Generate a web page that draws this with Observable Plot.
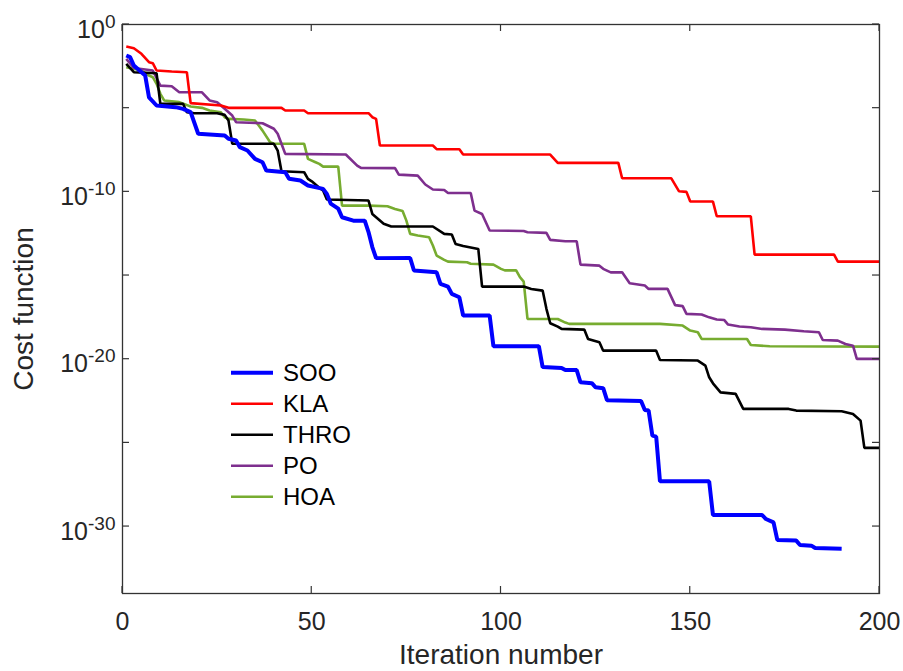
<!DOCTYPE html>
<html><head><meta charset="utf-8">
<script src="https://cdn.jsdelivr.net/npm/d3@7"></script>
<script src="https://cdn.jsdelivr.net/npm/@observablehq/plot@0.6"></script>
<style>body{margin:0;background:#fff;} svg{display:block}</style>
</head><body><div id="chart"></div>
<script>
// ---- data (iteration number, log10 of cost) ----
const algorithms = ["SOO", "KLA", "THRO", "PO", "HOA"];

const sooIter = [1,2,3,6,7,9,14,16,18,20,27,28,30,31,33,35,37,38,43,44,47,49,53,54,55,57,58,61,64,65,66,67,76,77,83,84,86,87,89,90,97,98,110,111,116,117,120,121,124,125,127,128,137,138,139,140,141,142,155,156,169,170,172,173,178,179,182,183,190];
const sooLog  = [-1.85,-1.95,-2.45,-3.05,-4.35,-4.84,-4.94,-5.04,-5.24,-6.53,-6.63,-6.83,-6.93,-7.33,-7.53,-8.03,-8.23,-8.73,-8.83,-9.22,-9.32,-9.62,-9.82,-10.12,-10.70,-11.0,-11.52,-11.72,-11.72,-12.4,-13.3,-13.96,-13.95,-14.70,-14.81,-15.50,-15.66,-16.10,-16.30,-17.39,-17.39,-19.22,-19.22,-20.47,-20.52,-20.65,-20.65,-21.38,-21.43,-21.68,-21.73,-22.45,-22.50,-23.03,-23.07,-24.57,-24.63,-27.30,-27.30,-29.31,-29.31,-29.55,-29.75,-30.80,-30.84,-31.10,-31.14,-31.28,-31.32];

const klaIter = [1,3,5,7,8,9,13,17,18,26,28,42,43,48,49,65,66,67,68,82,83,89,90,113,115,131,132,145,147,149,150,156,157,166,167,188,189,200];
const klaLog  = [-1.31,-1.42,-1.75,-2.25,-2.31,-2.75,-2.81,-2.85,-4.70,-4.84,-4.98,-4.98,-5.14,-5.14,-5.30,-5.30,-5.54,-5.64,-7.23,-7.23,-7.45,-7.45,-7.77,-7.77,-8.27,-8.27,-9.19,-9.19,-9.96,-10.0,-10.58,-10.58,-11.46,-11.46,-13.75,-13.75,-14.17,-14.17];

const throIter = [1,3,9,10,16,17,19,25,27,28,29,40,41,42,48,49,50,52,53,54,65,66,69,71,82,85,87,88,90,94,95,106,108,111,112,113,115,116,122,123,126,127,141,142,152,154,155,156,158,162,164,176,178,190,193,195,196,200];
const throLog  = [-2.35,-2.85,-2.91,-4.74,-4.74,-5.24,-5.30,-5.30,-5.40,-5.74,-7.13,-7.13,-7.53,-8.77,-8.83,-9.22,-9.37,-9.76,-9.92,-10.46,-10.52,-11.32,-11.91,-12.07,-12.07,-12.51,-12.55,-13.11,-13.24,-13.41,-15.66,-15.66,-15.80,-15.90,-16.99,-17.85,-18.05,-18.19,-18.23,-18.79,-18.99,-19.49,-19.49,-20.05,-20.08,-20.38,-21.08,-21.44,-21.98,-22.07,-22.97,-22.97,-23.07,-23.11,-23.27,-23.67,-25.30,-25.30];

const poIter = [1,3,8,10,13,15,21,23,25,27,29,30,37,40,41,42,43,59,62,63,72,73,78,80,82,85,86,92,93,95,97,106,107,112,113,117,120,121,126,127,129,132,134,138,139,144,146,148,149,153,155,157,159,160,163,166,169,175,180,184,185,189,191,193,194,200];
const poLog  = [-2.05,-2.6,-2.75,-3.65,-3.69,-4.05,-4.05,-4.54,-4.64,-5.04,-5.44,-5.84,-5.90,-6.23,-6.53,-7.13,-7.73,-7.77,-8.43,-8.57,-8.58,-8.97,-9.03,-9.56,-9.86,-9.89,-10.07,-10.07,-11.12,-11.32,-12.31,-12.34,-12.41,-12.45,-12.87,-12.95,-12.95,-14.35,-14.41,-14.60,-14.81,-14.81,-15.46,-15.60,-15.80,-15.80,-16.77,-16.83,-17.29,-17.33,-17.50,-17.63,-17.66,-17.93,-18.05,-18.09,-18.19,-18.23,-18.33,-18.39,-18.85,-18.89,-19.09,-19.19,-19.98,-19.98];

const hoaIter = [1,5,7,8,9,10,11,15,18,21,23,26,27,28,32,35,36,37,39,40,48,49,51,52,53,57,58,65,70,72,74,75,76,78,81,82,83,85,86,91,92,98,100,101,104,105,106,107,115,117,118,142,148,150,152,153,165,166,171,200];
const hoaLog  = [-2.55,-2.75,-3.05,-3.15,-3.54,-4.14,-4.54,-4.64,-4.90,-4.98,-5.14,-5.24,-5.54,-5.64,-5.68,-5.74,-6.04,-6.34,-7.04,-7.13,-7.13,-8.03,-8.23,-8.33,-8.49,-8.49,-10.82,-10.82,-10.86,-11.02,-11.15,-11.72,-12.51,-12.61,-12.71,-13.21,-13.81,-14.06,-14.17,-14.21,-14.30,-14.35,-14.60,-14.69,-14.69,-15.10,-15.36,-17.59,-17.60,-17.81,-17.89,-17.89,-17.99,-18.29,-18.39,-18.79,-18.79,-19.15,-19.23,-19.25];

const xTicks = [0, 50, 100, 150, 200];
const yTickExponents = [0, -5, -10, -15, -20, -25, -30];
const yLabelExponents = [0, -10, -20, -30];

// ---- styling ----
const style = {
  SOO:  {color: "#0000ff", width: 4},
  KLA:  {color: "#ff0000", width: 2.6},
  THRO: {color: "#000000", width: 2.6},
  PO:   {color: "#7e2f8e", width: 2.6},
  HOA:  {color: "#77ac30", width: 2.6}
};

const seriesData = {
  SOO: [sooIter, sooLog], KLA: [klaIter, klaLog], THRO: [throIter, throLog],
  PO: [poIter, poLog], HOA: [hoaIter, hoaLog]
};
const rows = name => seriesData[name][0].map((it, i) => ({iter: it, cost: Math.pow(10, seriesData[name][1][i]), algo: name}));

const yTicks = yTickExponents.map(e => Math.pow(10, e));
const yFmt = d => {
  const e = Math.round(Math.log10(d));
  return yLabelExponents.includes(e) ? `10^${e}` : "";
};
const axisColor = "#333333";
const tickLen = 7;
const drawOrder = ["HOA", "PO", "THRO", "KLA", "SOO"];

const plot = Plot.plot({
  width: 903, height: 671,
  marginLeft: 122, marginRight: 24, marginTop: 24, marginBottom: 78,
  style: {fontFamily: "'Liberation Sans', Arial, sans-serif", background: "white", color: "#262626"},
  x: {domain: [0, 200]},
  y: {type: "log", domain: [1e-34, 1]},
  marks: [
    ...drawOrder.map(name => Plot.line(rows(name), {
      x: "iter", y: "cost", stroke: style[name].color, strokeWidth: style[name].width,
      strokeLinejoin: "miter", strokeLinecap: "butt"
    })),
    Plot.frame({stroke: axisColor, strokeWidth: 1.3}),
    Plot.axisX({anchor: "bottom", ticks: xTicks, tickSize: 0, tickPadding: 19, fontSize: 25, label: null}),
    Plot.axisY({anchor: "left", ticks: yTicks, tickSize: 0, tickPadding: 7, tickFormat: yFmt, fontSize: 25, label: null, dy: 5}),
    Plot.text(["Cost function"], {frameAnchor: "left", dx: -98, rotate: -90, textAnchor: "middle", lineAnchor: "middle", fontSize: 28, fill: "#262626", text: d => d}),
    Plot.text(["Iteration number"], {frameAnchor: "bottom", dy: 62, textAnchor: "middle", lineAnchor: "middle", fontSize: 28, fill: "#262626", text: d => d})
  ]
});

const svg = d3.select(plot);
const sx = plot.scale("x"), sy = plot.scale("y");
const [fx0, fx1] = sx.range, [fy0, fy1] = sy.range; // fy0 bottom, fy1 top

// inward ticks on all four sides, placed through the plot's own scales
const tg = svg.append("g").attr("stroke", axisColor).attr("stroke-width", 1.2);
xTicks.forEach(v => {
  const px = sx.apply(v);
  tg.append("line").attr("x1", px).attr("x2", px).attr("y1", fy0).attr("y2", fy0 - tickLen);
  tg.append("line").attr("x1", px).attr("x2", px).attr("y1", fy1).attr("y2", fy1 + tickLen);
});
yTicks.forEach(v => {
  const py = sy.apply(v);
  tg.append("line").attr("x1", fx0).attr("x2", fx0 + tickLen).attr("y1", py).attr("y2", py);
  tg.append("line").attr("x1", fx1).attr("x2", fx1 - tickLen).attr("y1", py).attr("y2", py);
});

// superscript exponents on y tick labels
svg.selectAll('g[aria-label="y-axis tick label"] text').each(function() {
  const t = d3.select(this);
  const m = /^10\^(-?\d+)$/.exec(t.text());
  if (!m) return;
  t.text("");
  t.append("tspan").text("10");
  t.append("tspan").attr("dy", -10).attr("font-size", 19).text(m[1]);
});

// legend (inside the axes, no box)
const lg = svg.append("g")
  .attr("font-family", "'Liberation Sans', Arial, sans-serif")
  .attr("font-size", 24).attr("text-anchor", "start");
algorithms.forEach((name, i) => {
  const cy = 372.7 + i * 31;
  lg.append("line").attr("x1", 231).attr("x2", 273).attr("y1", cy).attr("y2", cy)
    .attr("stroke", style[name].color).attr("stroke-width", style[name].width);
  lg.append("text").attr("x", 283).attr("y", cy + 8.5).attr("fill", "#000").text(name);
});

document.getElementById("chart").appendChild(plot);
</script>
</body></html>
